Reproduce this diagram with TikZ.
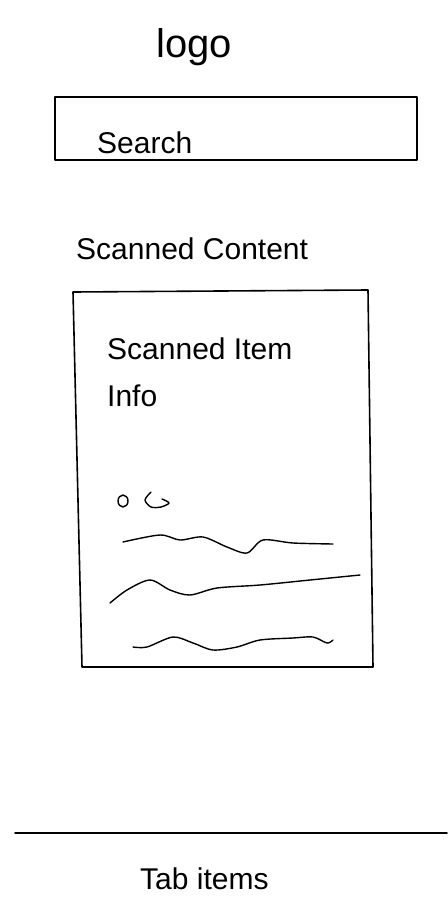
\documentclass[tikz,border=0pt]{standalone}
\usepackage{fontspec}
\setmainfont{Liberation Sans}
\begin{document}
\begin{tikzpicture}[x=1pt, y=-1pt, line cap=round, line join=round,
    hand/.style={font=\fontsize{30}{34}\selectfont, anchor=base west, inner sep=0pt},
    frame/.style={line width=1.6pt},
    squiggle/.style={line width=1.4pt}]
    \useasboundingbox (0,0) rectangle (447,899);
    \node[hand, font=\fontsize{40}{46}\selectfont] (logo) at (156,58) {logo};
    \draw[frame] (55,97) rectangle (417,160);
    \node[hand] (search) at (97,153) {Search};
    \node[hand] (scanned) at (76,259) {Scanned Content};
    \draw[frame] (73,292) -- (368,290) -- (373,667) -- (82,667) -- cycle;
    \node[hand] (itemtitle) at (107,359) {Scanned Item};
    \node[hand] (iteminfo) at (107,406) {Info};
    \draw[squiggle] (123,501) ellipse (5 and 6);
    \draw[squiggle] plot[smooth] coordinates {(151,492) (145,500) (151,507) (161,507) (169,503) (162,499)};
    \draw[squiggle] plot[smooth] coordinates {(123,542) (160,535) (180,540) (203,537) (227,547) (247,553) (263,540) (293,543) (333,544)};
    \draw[squiggle] plot[smooth] coordinates {(110,603) (127,590) (150,580) (170,590) (190,595) (217,588) (260,585) (310,580) (360,575)};
    \draw[squiggle] plot[smooth] coordinates {(133,647) (147,647) (173,637) (193,643) (213,650) (237,647) (260,640) (293,638) (313,637) (327,643) (333,640)};
    \draw[frame] (15,833) -- (447,833);
    \node[hand] (tabs) at (140,889) {Tab items};
\end{tikzpicture}
\end{document}
